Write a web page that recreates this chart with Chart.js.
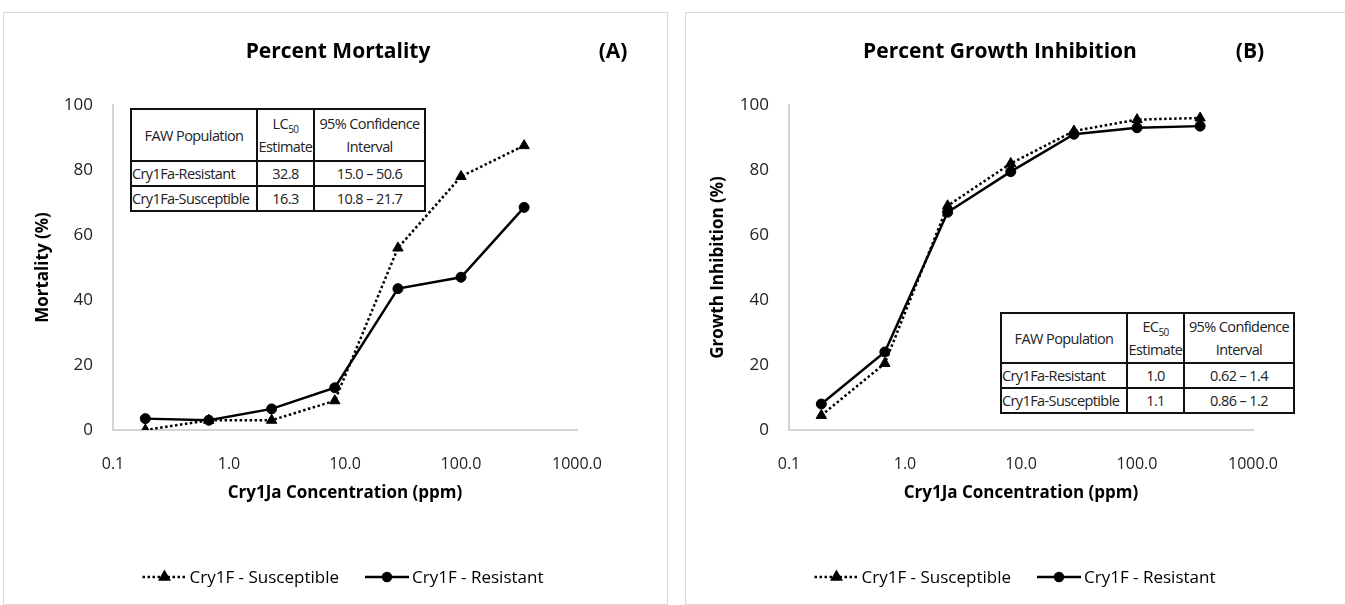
<!DOCTYPE html>
<html>
<head>
<meta charset="utf-8">
<title>Cry1Ja bioassay</title>
<script src="https://cdn.jsdelivr.net/npm/chart.js@4.4.1/dist/chart.umd.min.js"></script>
<style>
    body { margin: 0; width: 1345px; height: 605px; background: #fff; position: relative; overflow: hidden; font-family: 'Open Sans', sans-serif; }
    .panel { position: absolute; top: 12px; width: 663px; height: 591px; border: 1px solid #d9d9d9; background: #fff; }
    #panelA { left: 3px; }
    #panelB { left: 685px; }
    .panel canvas { position: absolute; left: 0; top: 0; }
    table.stats { position: absolute; border-collapse: collapse; font-size: 14.5px; color: #222; letter-spacing: -0.6px; background: #fff; }
    table.stats td { border: 2px solid #111; padding: 0; text-align: center; line-height: 23px; white-space: nowrap; }
    table.stats td.pop { text-align: left; }
    table.stats sub { font-size: 10px; line-height: 0; }
</style>
</head>
<body>
<div class="panel" id="panelA">
    <canvas id="chartA" width="663" height="591"></canvas>
    <table class="stats" id="tableA" style="left:126px; top:95px;"></table>
</div>
<div class="panel" id="panelB">
    <canvas id="chartB" width="663" height="591"></canvas>
    <table class="stats" id="tableB" style="left:314px; top:299px;"></table>
</div>
<script>
// Cry1Ja doses (ppm), 3.5-fold dilution series
const concentrations = [0.19, 0.67, 2.33, 8.16, 28.6, 100, 350];
const xTicks = [0.1, 1, 10, 100, 1000];
const yTicks = [0, 20, 40, 60, 80, 100];
const seriesLabels = ['Cry1F - Susceptible', 'Cry1F - Resistant'];

// Panel A - percent mortality
const mortalitySusceptible = [0, 3, 3, 9, 56, 78, 87.5];
const mortalityResistant = [3.5, 3, 6.5, 13, 43.5, 47, 68.5];

// Panel B - percent growth inhibition
const growthSusceptible = [4.5, 20.5, 69, 82, 92, 95.5, 96];
const growthResistant = [8, 24, 67, 79.5, 91, 93, 93.5];

// Inset tables
const populations = ['Cry1Fa-Resistant', 'Cry1Fa-Susceptible'];
const lc50Estimates = ['32.8', '16.3'];
const lc50Intervals = ['15.0 – 50.6', '10.8 – 21.7'];
const ec50Estimates = ['1.0', '1.1'];
const ec50Intervals = ['0.62 – 1.4', '0.86 – 1.2'];

function fillTable(id, stat, estimates, intervals, widths, heights) {
    const table = document.getElementById(id);
    let html = '<tr style="height:' + heights[0] + 'px">' +
        '<td style="width:' + widths[0] + 'px">FAW Population</td>' +
        '<td style="width:' + widths[1] + 'px">' + stat + '<sub>50</sub><br>Estimate</td>' +
        '<td style="width:' + widths[2] + 'px">95% Confidence<br>Interval</td></tr>';
    populations.forEach((p, i) => {
        html += '<tr style="height:' + heights[1] + 'px"><td class="pop">' + p + '</td><td>' +
            estimates[i] + '</td><td>' + intervals[i] + '</td></tr>';
    });
    table.innerHTML = html;
}
fillTable('tableA', 'LC', lc50Estimates, lc50Intervals, [124, 55, 109], [52, 24]);
fillTable('tableB', 'EC', ec50Estimates, ec50Intervals, [124, 55, 108], [50, 25]);

// Title, panel letter and legend drawn on the canvas
const decorPlugin = {
    id: 'decor',
    afterDraw(chart, args, o) {
        const ctx = chart.ctx;
        ctx.save();
        ctx.fillStyle = '#000';
        ctx.textBaseline = 'middle';
        ctx.textAlign = 'center';
        ctx.font = 'bold 21px "Open Sans"';
        ctx.fillText(o.title, o.titleX, o.titleY);
        ctx.fillText(o.tag, o.tagX, o.titleY);

        ctx.font = '17px "Open Sans"';
        ctx.textAlign = 'left';
        const sample = 44, gap = 3, itemGap = 26;
        const items = chart.data.datasets.map(ds => ({ ds: ds, w: ctx.measureText(ds.label).width }));
        const total = items.reduce((a, it) => a + sample + gap + it.w, 0) + itemGap * (items.length - 1);
        let x = o.legendX - total / 2;
        const y = o.legendY;
        items.forEach(it => {
            const ds = it.ds;
            ctx.strokeStyle = '#000';
            ctx.lineWidth = ds.borderWidth;
            ctx.setLineDash(ds.borderDash || []);
            ctx.beginPath();
            ctx.moveTo(x, y);
            ctx.lineTo(x + sample, y);
            ctx.stroke();
            ctx.setLineDash([]);
            ctx.fillStyle = '#000';
            Chart.helpers.drawPoint(ctx, { pointStyle: ds.pointStyle, radius: ds.pointRadius - 1, borderWidth: 1, rotation: 0 }, x + sample / 2, y);
            ctx.fillStyle = '#000';
            ctx.fillText(ds.label, x + sample + gap, y + 1);
            x += sample + gap + it.w + itemGap;
        });
        ctx.restore();
    }
};

function makePanel(canvasId, p) {
    const ctx = document.getElementById(canvasId).getContext('2d');
    return new Chart(ctx, {
        type: 'line',
        data: {
            datasets: [
                {
                    label: seriesLabels[0],
                    data: concentrations.map((c, i) => ({ x: c, y: p.susceptible[i] })),
                    borderColor: '#000',
                    backgroundColor: '#000',
                    borderWidth: 2.5,
                    borderDash: [2.5, 2.5],
                    pointStyle: 'triangle',
                    pointRadius: 6,
                    pointBorderWidth: 1,
                },
                {
                    label: seriesLabels[1],
                    data: concentrations.map((c, i) => ({ x: c, y: p.resistant[i] })),
                    borderColor: '#000',
                    backgroundColor: '#000',
                    borderWidth: 2.5,
                    pointStyle: 'circle',
                    pointRadius: 5,
                    pointBorderWidth: 1,
                },
            ],
        },
        options: {
            responsive: false,
            animation: false,
            layout: { padding: { top: 92, left: 0, right: 663 - p.areaRight, bottom: 74 } },
            scales: {
                x: {
                    type: 'logarithmic',
                    min: 0.1,
                    max: 1000,
                    afterBuildTicks: (scale) => { scale.ticks = xTicks.map(v => ({ value: v })); },
                    afterFit: (scale) => { scale.height = 100; },
                    grid: { display: false, drawTicks: false },
                    border: { color: '#d4d4d4', width: 2 },
                    ticks: {
                        color: '#222',
                        padding: 25,
                        maxRotation: 0,
                        autoSkip: false,
                        font: { family: 'Open Sans', size: 16 },
                        callback: (v) => Number(v).toFixed(1),
                    },
                    title: {
                        display: true,
                        text: 'Cry1Ja Concentration (ppm)',
                        color: '#000',
                        font: { family: 'Open Sans', size: 17, weight: 'bold' },
                        padding: { top: 0, bottom: 27 },
                    },
                },
                y: {
                    min: 0,
                    max: 100,
                    afterBuildTicks: (scale) => { scale.ticks = yTicks.map(v => ({ value: v })); },
                    afterFit: (scale) => { scale.width = p.areaLeft; },
                    grid: { display: false, drawTicks: false },
                    border: { color: '#d4d4d4', width: 2 },
                    ticks: {
                        color: '#222',
                        padding: 20,
                        font: { family: 'Open Sans', size: 17 },
                    },
                    title: {
                        display: true,
                        text: p.yTitle,
                        color: '#000',
                        font: { family: 'Open Sans', size: 17, weight: 'bold' },
                        padding: { top: p.yTitlePad, bottom: 0 },
                    },
                },
            },
            plugins: {
                legend: { display: false },
                tooltip: { enabled: false },
                decor: {
                    title: p.title,
                    titleX: p.titleX,
                    titleY: 39,
                    tag: p.tag,
                    tagX: p.tagX,
                    legendX: p.legendX,
                    legendY: 564,
                },
            },
        },
        plugins: [decorPlugin],
    });
}

makePanel('chartA', {
    susceptible: mortalitySusceptible,
    resistant: mortalityResistant,
    yTitle: 'Mortality (%)',
    yTitlePad: 29,
    areaLeft: 109,
    areaRight: 573,
    title: 'Percent Mortality',
    titleX: 334,
    tag: '(A)',
    tagX: 609,
    legendX: 339,
});

makePanel('chartB', {
    susceptible: growthSusceptible,
    resistant: growthResistant,
    yTitle: 'Growth Inhibition (%)',
    yTitlePad: 22,
    areaLeft: 103,
    areaRight: 567,
    title: 'Percent Growth Inhibition',
    titleX: 314,
    tag: '(B)',
    tagX: 564,
    legendX: 329,
});
</script>
</body>
</html>
